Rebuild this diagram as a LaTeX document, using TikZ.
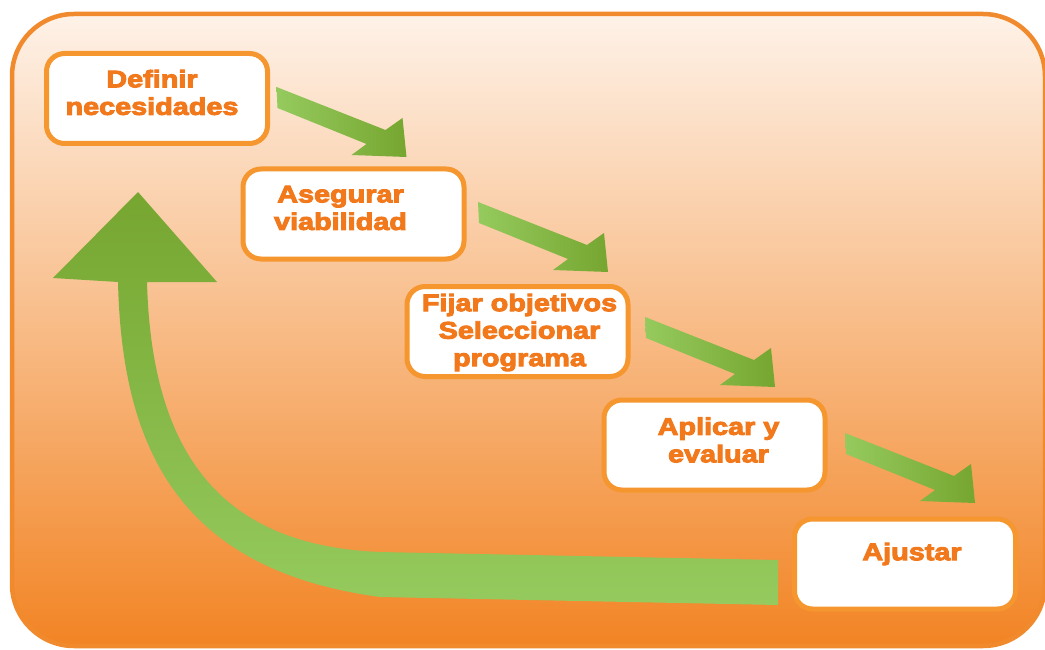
\documentclass[tikz,border=0pt]{standalone}
\usepackage{fontspec}
\newfontfamily\lblfont{Liberation Sans Bold}[FakeStretch=1.2,FakeBold=4]
\usetikzlibrary{calc}
\definecolor{bgtop}{HTML}{FEF2E8}
\definecolor{bgmid}{HTML}{F8B783}
\definecolor{bgbot}{HTML}{F28424}
\definecolor{frameorange}{HTML}{F18A2C}
\definecolor{boxorange}{HTML}{F5962F}
\definecolor{txtorange}{HTML}{F2781C}
\definecolor{glight}{HTML}{95CA5E}
\definecolor{gdark}{HTML}{76A630}
\tikzset{
  garrow/.pic={
    \shade[left color=glight, right color=gdark]
      (0,0) -- (109,43) -- (126,31) -- (130,70) -- (75,68) -- (90,57) -- (1,21) -- cycle;
  }
}
\begin{document}
\begin{tikzpicture}[x=1pt,y=-1pt,
  stepbox/.style={draw=boxorange, line width=5pt, fill=white, rounded corners=18pt,
    minimum width=221pt, minimum height=90pt, inner sep=0pt},
  lbl/.style={font=\lblfont\fontsize{24}{27.5}\selectfont, text=txtorange,
    align=center, inner sep=0pt}]
\useasboundingbox (0,0) rectangle (1045,650);
\fill[white] (0,0) rectangle (1045,650);
% background panel
\shade[top color=bgtop, middle color=bgmid, bottom color=bgbot, rounded corners=62pt]
  (12,14) rectangle (1045,646);
\draw[frameorange, line width=4.5pt, rounded corners=62pt]
  (12,14) rectangle (1045,646);
% boxes
\node[stepbox] (b1) at (157,98.5) {};
\node[stepbox] (b2) at (353.5,214) {};
\node[stepbox] (b3) at (517.5,331.5) {};
\node[stepbox] (b4) at (714.5,445) {};
\node[stepbox] (b5) at (905,564) {};
% texts
\node[lbl] (t1) at ($(b1.center)+(-5,-6)$) {Definir\\necesidades};
\node[lbl] (t2) at ($(b2.center)+(-13,-6)$) {Asegurar\\viabilidad};
\node[lbl] (t3) at ($(b3.center)+(2,1)$) {Fijar objetivos\\Seleccionar\\programa};
\node[lbl] (t4) at ($(b4.center)+(4,-5)$) {Aplicar y\\evaluar};
\node[lbl] (t5) at ($(b5.center)+(7,-10)$) {Ajustar};
% step arrows
\pic at ([shift={(6.5,-11.5)}]b1.east) {garrow};
\pic at ([shift={(11.5,-12)}]b2.east) {garrow};
\pic at ([shift={(14.5,-14.5)}]b3.east) {garrow};
\pic at ([shift={(17.5,-12)}]b4.east) {garrow};
% return arrow
\coordinate (rs) at ([shift={(-14,18)}]b5.west);
\coordinate (rt) at (138,192);
\shade[top color=gdark, bottom color=glight]
  ($(rs)+(0,-22)$) -- (380,552) .. controls (235,546) and (152,470) .. (147,282)
  -- (217,282) -- (rt) -- (53,278) -- (118,282)
  .. controls (122,450) and (180,570) .. (380,597) -- ($(rs)+(0,23)$) -- cycle;
\end{tikzpicture}
\end{document}
